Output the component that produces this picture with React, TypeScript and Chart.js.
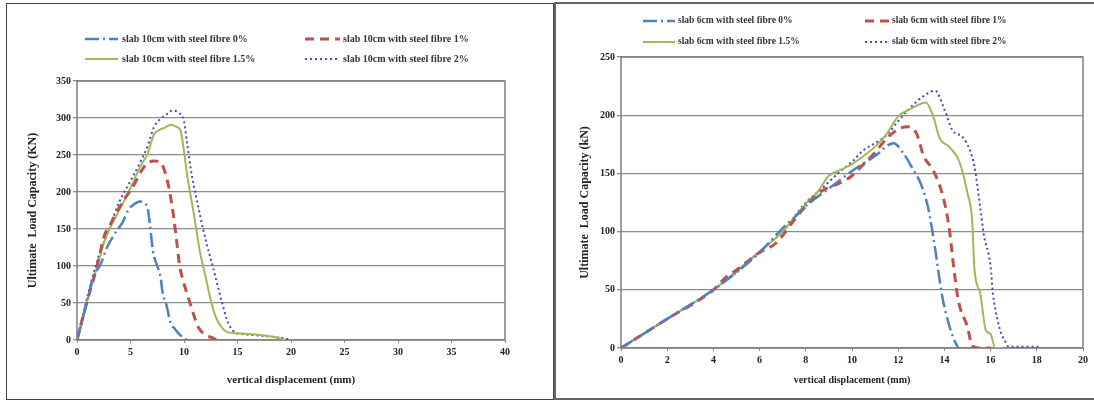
import React, { useEffect, useRef } from "react";
import { Chart, registerables } from "chart.js";

Chart.register(...registerables);

// ---------- Left chart (slab 10cm) ----------
const leftNames = [
  "slab 10cm with steel fibre 0%",
  "slab 10cm with steel fibre 1%",
  "slab 10cm with steel fibre 1.5%",
  "slab 10cm with steel fibre 2%",
];
const leftXTicks = [0, 5, 10, 15, 20, 25, 30, 35, 40];
const leftYTicks = [0, 50, 100, 150, 200, 250, 300, 350];

const left0X = [0, 0.5, 1, 1.5, 2.2, 2.8, 3.5, 4.3, 4.8, 5.3, 5.9, 6.4, 6.6, 6.8, 7.1, 7.5, 7.8, 8.0, 8.4, 8.7, 9.2, 9.7, 10.3];
const left0Y = [0, 28, 55, 85, 102, 125, 143, 160, 176, 183, 187, 184, 178, 158, 120, 100, 86, 64, 45, 25, 14, 6, 0];

const left1X = [0, 0.5, 1, 1.5, 2, 2.6, 3, 3.6, 4.5, 5.3, 6, 6.5, 7.2, 7.8, 8.2, 8.6, 9.0, 9.3, 9.6, 9.9, 10.3, 10.6, 11.0, 11.3, 11.8, 12.3, 12.8, 13.0];
const left1Y = [0, 28, 55, 80, 108, 143, 153, 170, 192, 209, 228, 238, 242, 240, 228, 205, 170, 135, 100, 81, 62, 48, 30, 18, 9, 5, 2, 0];

const left15X = [0, 0.5, 1, 1.5, 1.9, 2.6, 3.6, 4.6, 5.3, 5.9, 6.6, 7.2, 7.6, 8.2, 8.8, 9.3, 9.7, 10.0, 10.3, 10.9, 11.2, 11.5, 11.8, 12.1, 12.4, 12.8, 13.1, 13.7, 14.2, 15, 16, 17, 18, 19, 19.5];
const left15Y = [0, 25, 55, 80, 100, 135, 166, 193, 215, 234, 252, 278, 283, 287, 291, 288, 282, 255, 222, 172, 145, 118, 99, 80, 60, 38, 27, 14, 10, 9, 8, 7, 5, 2, 0];

const left2X = [0, 1, 2, 3, 3.9, 5, 5.9, 6.6, 7.2, 7.9, 8.5, 8.9, 9.5, 10.0, 10.3, 10.7, 11.2, 11.8, 12.3, 12.7, 13.2, 13.6, 14.0, 14.3, 14.8, 15.5, 17, 18.5, 19.5, 20];
const left2Y = [0, 60, 112, 150, 185, 215, 240, 262, 288, 300, 306, 310, 307, 296, 265, 225, 189, 149, 120, 99, 70, 48, 28, 18, 10, 8, 6, 4, 2, 0];

// ---------- Right chart (slab 6cm) ----------
const rightNames = [
  "slab 6cm with steel fibre 0%",
  "slab 6cm with steel fibre 1%",
  "slab 6cm with steel fibre 1.5%",
  "slab 6cm with steel fibre 2%",
];
const rightXTicks = [0, 2, 4, 6, 8, 10, 12, 14, 16, 18, 20];
const rightYTicks = [0, 50, 100, 150, 200, 250];

const right0X = [0, 2, 4, 5, 6, 7, 7.5, 8, 9, 10, 11, 11.8, 12.2, 12.6, 13, 13.3, 13.6, 13.9, 14.2, 14.4, 14.6];
const right0Y = [0, 25, 50, 65, 82, 103, 112, 122, 137, 152, 165, 176, 168, 155, 140, 120, 85, 45, 20, 8, 0];

const right1X = [0, 2, 4, 4.5, 5, 6, 6.7, 7.5, 8, 8.7, 9.5, 10, 10.5, 11, 11.5, 12, 12.4, 12.8, 13.1, 13.5, 13.9, 14.2, 14.4, 14.6, 15, 15.2, 15.5, 16];
const right1Y = [0, 25, 50, 60, 67, 82, 90, 110, 122, 135, 142, 148, 158, 168, 180, 188, 190, 184, 165, 153, 133, 104, 70, 41, 18, 2, 0, 0];

const right15X = [0, 2, 4, 5, 6, 7, 7.5, 8, 8.5, 9, 9.5, 10, 10.5, 11, 11.5, 12, 12.5, 13.2, 13.5, 13.8, 14.2, 14.65, 15, 15.2, 15.3, 15.55, 15.8, 16, 16.2, 16.5];
const right15Y = [0, 25, 50, 66, 83, 100, 112, 124, 134, 148, 153, 158, 165, 173, 184, 199, 205, 211, 200, 180, 173, 160, 133, 110, 68, 47, 15, 12, 0, 0];

const right2X = [0, 2, 4, 5, 6, 7, 8, 8.7, 9.5, 10, 10.5, 11, 11.5, 12, 12.5, 13, 13.6, 14, 14.35, 14.8, 15.1, 15.3, 15.55, 15.7, 16, 16.1, 16.3, 16.45, 16.6, 16.8, 17.5, 18.2];
const right2Y = [0, 25, 50, 65, 83, 100, 125, 137, 152, 160, 170, 176, 183, 195, 206, 215, 221, 205, 187, 181, 170, 156, 121, 98, 70, 47, 24, 13, 7, 1, 1, 1];

// ---------- Styles ----------
const seriesColors = ["#4F81BD", "#C0504D", "#9BBB59", "#4848B8"];
const seriesDash = [[14, 4, 2, 4], [9, 6], [], [2, 3]];
const seriesWidth = [2.5, 3, 2, 2];
const FONT = "'Liberation Serif', 'Times New Roman', serif";

const zip = (xs: number[], ys: number[]) => xs.map((x, i) => ({ x, y: ys[i] }));

const legendPlugin = {
  id: "slabLegend",
  afterDraw(chart: any, _args: any, opts: any) {
    const ctx = chart.ctx;
    const items = opts.items || [];
    ctx.save();
    items.forEach((it: any, i: number) => {
      ctx.beginPath();
      ctx.strokeStyle = seriesColors[i];
      ctx.lineWidth = seriesWidth[i];
      ctx.setLineDash(seriesDash[i]);
      ctx.moveTo(it.x1, it.y);
      ctx.lineTo(it.x2, it.y);
      ctx.stroke();
      ctx.setLineDash([]);
      ctx.fillStyle = "#333";
      ctx.font = `bold ${opts.fontSize}px ${FONT}`;
      ctx.textBaseline = "middle";
      ctx.textAlign = "left";
      ctx.fillText(it.text, it.tx, it.y);
    });
    ctx.restore();
  },
};

const framePlugin = {
  id: "plotFrame",
  beforeDatasetsDraw(chart: any) {
    const { ctx, chartArea } = chart;
    ctx.save();
    ctx.strokeStyle = "#7f7f7f";
    ctx.lineWidth = 1.5;
    ctx.strokeRect(chartArea.left, chartArea.top, chartArea.right - chartArea.left, chartArea.bottom - chartArea.top);
    ctx.restore();
  },
};

function buildConfig(p: any) {
  const datasets = p.series.map((s: any, i: number) => ({
    label: p.names[i],
    data: zip(s[0], s[1]),
    borderColor: seriesColors[i],
    backgroundColor: seriesColors[i],
    borderWidth: seriesWidth[i],
    borderDash: seriesDash[i],
    pointRadius: 0,
    fill: false,
    cubicInterpolationMode: "monotone",
  }));
  return {
    type: "line",
    data: { datasets },
    plugins: [legendPlugin, framePlugin],
    options: {
      animation: false,
      responsive: false,
      maintainAspectRatio: false,
      layout: { padding: p.padding },
      plugins: {
        legend: { display: false },
        tooltip: { enabled: false },
        slabLegend: { items: p.legendItems, fontSize: p.legendFont },
      },
      scales: {
        x: {
          type: "linear",
          min: p.xTicks[0],
          max: p.xTicks[p.xTicks.length - 1],
          afterBuildTicks: (s: any) => {
            s.ticks = p.xTicks.map((v: number) => ({ value: v }));
          },
          afterFit: (s: any) => {
            s.height = p.xAxisH;
          },
          grid: { drawOnChartArea: false, drawTicks: true, tickLength: 3, color: "#888" },
          border: { display: false },
          ticks: {
            autoSkip: false,
            maxRotation: 0,
            padding: 3,
            color: "#222",
            font: { family: FONT, size: 10, weight: "bold" },
          },
          title: {
            display: true,
            text: "vertical displacement (mm)",
            color: "#222",
            padding: 0,
            font: { family: FONT, size: p.xTitleFont, weight: "bold" },
          },
        },
        y: {
          type: "linear",
          min: p.yTicks[0],
          max: p.yTicks[p.yTicks.length - 1],
          afterBuildTicks: (s: any) => {
            s.ticks = p.yTicks.map((v: number) => ({ value: v }));
          },
          afterFit: (s: any) => {
            s.width = p.yAxisW;
          },
          grid: { color: "#8c8c8c", lineWidth: 1.3, drawTicks: true, tickLength: 4 },
          border: { display: false },
          ticks: {
            padding: 2,
            color: "#222",
            font: { family: FONT, size: 10, weight: "bold" },
          },
          title: {
            display: true,
            text: p.yTitle,
            color: "#222",
            padding: 0,
            font: { family: FONT, size: p.yTitleFont, weight: "bold" },
          },
        },
      },
    },
  };
}

function ChartPanel(props: { cfg: any; width: number; height: number; style: React.CSSProperties }) {
  const ref = useRef<HTMLCanvasElement | null>(null);
  useEffect(() => {
    if (!ref.current) return;
    const chart = new Chart(ref.current, buildConfig(props.cfg) as any);
    return () => chart.destroy();
  }, []);
  return (
    <canvas
      ref={ref}
      width={props.width}
      height={props.height}
      style={{ position: "absolute", width: props.width, height: props.height, ...props.style }}
    />
  );
}

const leftCfg = {
  names: leftNames,
  series: [
    [left0X, left0Y],
    [left1X, left1Y],
    [left15X, left15Y],
    [left2X, left2Y],
  ],
  xTicks: leftXTicks,
  yTicks: leftYTicks,
  padding: { left: 26, right: 49, top: 81, bottom: 14 },
  yAxisW: 51,
  xAxisH: 47,
  xTitleFont: 11,
  yTitleFont: 12,
  yTitle: "Ultimate  Load Capacity (KN)",
  legendFont: 10,
  legendItems: [
    { x1: 85, x2: 118, tx: 122, y: 39, text: leftNames[0] },
    { x1: 305, x2: 340, tx: 343, y: 39, text: leftNames[1] },
    { x1: 85, x2: 118, tx: 122, y: 59, text: leftNames[2] },
    { x1: 305, x2: 340, tx: 343, y: 59, text: leftNames[3] },
  ],
};

const rightCfg = {
  names: rightNames,
  series: [
    [right0X, right0Y],
    [right1X, right1Y],
    [right15X, right15Y],
    [right2X, right2Y],
  ],
  xTicks: rightXTicks,
  yTicks: rightYTicks,
  padding: { left: 24, right: 11, top: 57, bottom: 15 },
  yAxisW: 43,
  xAxisH: 38,
  xTitleFont: 10,
  yTitleFont: 12,
  yTitle: "Ultimate  Load Capacity (kN)",
  legendFont: 9.5,
  legendItems: [
    { x1: 89, x2: 121, tx: 124, y: 21, text: rightNames[0] },
    { x1: 311, x2: 336, tx: 338, y: 21, text: rightNames[1] },
    { x1: 89, x2: 121, tx: 124, y: 42, text: rightNames[2] },
    { x1: 311, x2: 336, tx: 338, y: 42, text: rightNames[3] },
  ],
};

export default function App() {
  return (
    <div
      style={{
        position: "fixed",
        left: 0,
        top: 0,
        width: 1094,
        height: 401,
        background: "#fff",
        overflow: "hidden",
      }}
    >
      <ChartPanel cfg={leftCfg} width={554} height={401} style={{ left: 0, top: 0 }} />
      <ChartPanel cfg={rightCfg} width={540} height={401} style={{ left: 554, top: 0 }} />
      <div
        style={{
          position: "absolute",
          left: 6,
          top: 3,
          width: 548,
          height: 397,
          border: "1.5px solid #444",
          boxSizing: "border-box",
          pointerEvents: "none",
        }}
      />
      <div
        style={{
          position: "absolute",
          left: 554,
          top: 2,
          width: 545,
          height: 398,
          border: "2px solid #666",
          boxSizing: "border-box",
          pointerEvents: "none",
        }}
      />
    </div>
  );
}
